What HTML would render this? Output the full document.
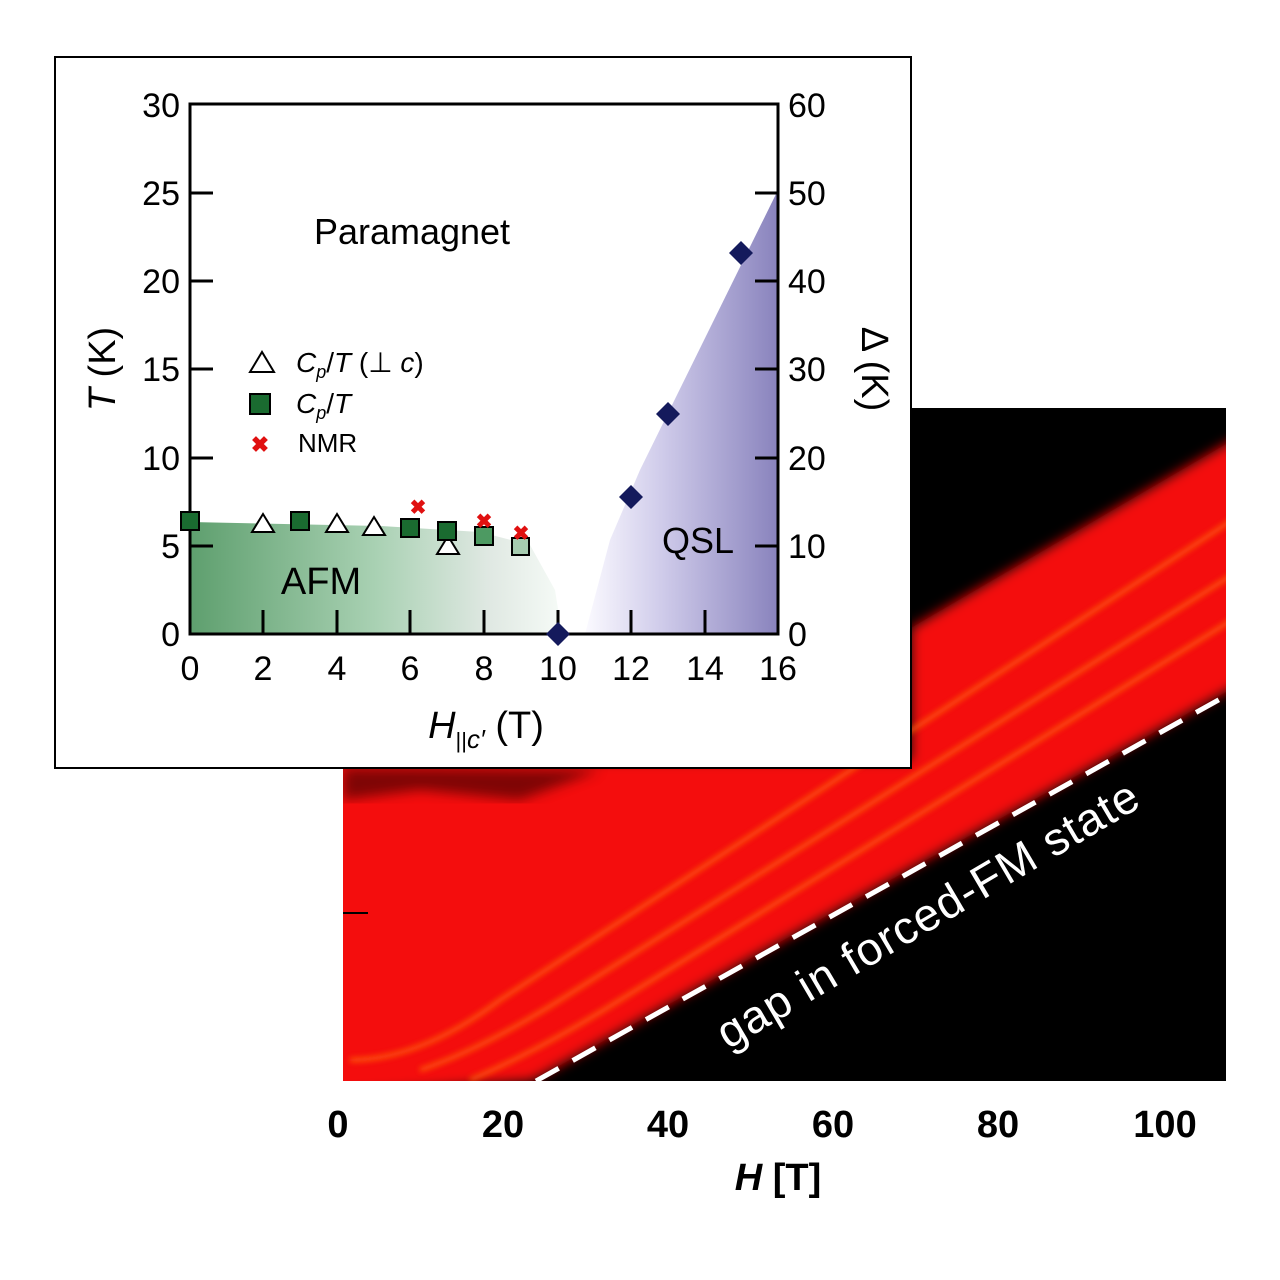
<!DOCTYPE html><html><head><style>body{margin:0;background:#fff}svg{display:block}text{font-family:"Liberation Sans",sans-serif}</style></head><body>
<svg width="1280" height="1280" viewBox="0 0 1280 1280" xmlns="http://www.w3.org/2000/svg">
<defs>
<filter id="b6"><feGaussianBlur stdDeviation="6"/></filter>
<filter id="b3"><feGaussianBlur stdDeviation="3"/></filter>
<clipPath id="hc"><rect x="343" y="408" width="883" height="673"/></clipPath>
<linearGradient id="gg" x1="0" x2="1" y1="0" y2="0"><stop offset="0" stop-color="#5e9f6e"/><stop offset="0.5" stop-color="#a9d1b3"/><stop offset="0.8" stop-color="#dfe8e2"/><stop offset="1" stop-color="#f6fbf7"/></linearGradient>
<linearGradient id="gq" x1="0" x2="1" y1="0" y2="0"><stop offset="0" stop-color="#fbfaff"/><stop offset="0.4" stop-color="#cfcbea"/><stop offset="1" stop-color="#8983bd"/></linearGradient>
</defs>
<!-- heatmap -->
<rect x="343" y="408" width="883" height="673" fill="#000"/>
<g clip-path="url(#hc)">
<g filter="url(#b6)">
<polygon points="330,760 911,760 911,628 1240,436 1240,684 532,1081 330,1095" fill="#f40d0a"/>
</g>
<polygon points="343,800 420,790 520,800 600,770 343,768" fill="#300" opacity="0.6" filter="url(#b6)"/>
<g filter="url(#b3)" stroke="#ff6a10" stroke-width="4" fill="none" opacity="0.85">
<path d="M350,1060 Q420,1060 500,1000 L1240,515"/>
<path d="M420,1070 Q480,1050 560,1000 L1240,570"/>
<path d="M470,1080 Q540,1050 620,1000 L1240,615"/>
</g>
</g>
<line x1="536" y1="1081" x2="1222" y2="698" stroke="#fff" stroke-width="5" stroke-dasharray="26,16"/>
<text transform="translate(728,1050) rotate(-30.5)" font-size="46" fill="#fff" letter-spacing="1">gap in forced-FM state</text>
<line x1="343" y1="913" x2="368" y2="913" stroke="#000" stroke-width="2"/>
<g font-size="38" text-anchor="middle" fill="#000" font-weight="bold">
<text x="338" y="1137">0</text><text x="503" y="1137">20</text><text x="668" y="1137">40</text><text x="833" y="1137">60</text><text x="998" y="1137">80</text><text x="1165" y="1137">100</text>
<text x="778" y="1190"><tspan font-style="italic">H</tspan> [T]</text>
</g>
<!-- inset -->
<rect x="55" y="57" width="856" height="711" fill="#fff" stroke="#000" stroke-width="2"/>
<polygon points="190,522 380,526 480,532 530,545 555,590 562,634 190,634" fill="url(#gg)"/>
<polygon points="585,634 610,540 640,470 778,190 778,634" fill="url(#gq)"/>
<g stroke="#000" stroke-width="3" fill="none">
<rect x="190" y="104" width="588" height="530"/>
</g>
<g stroke="#000" stroke-width="3">
<line x1="190" y1="193" x2="213" y2="193"/><line x1="190" y1="281" x2="213" y2="281"/><line x1="190" y1="369" x2="213" y2="369"/><line x1="190" y1="458" x2="213" y2="458"/><line x1="190" y1="546" x2="213" y2="546"/>
<line x1="778" y1="193" x2="755" y2="193"/><line x1="778" y1="281" x2="755" y2="281"/><line x1="778" y1="369" x2="755" y2="369"/><line x1="778" y1="458" x2="755" y2="458"/><line x1="778" y1="546" x2="755" y2="546"/>
<line x1="263" y1="634" x2="263" y2="610"/><line x1="337" y1="634" x2="337" y2="610"/><line x1="410" y1="634" x2="410" y2="610"/><line x1="484" y1="634" x2="484" y2="610"/><line x1="558" y1="634" x2="558" y2="610"/><line x1="631" y1="634" x2="631" y2="610"/><line x1="705" y1="634" x2="705" y2="610"/>
</g>
<g font-size="34" fill="#000">
<g text-anchor="end"><text x="180" y="117">30</text><text x="180" y="205">25</text><text x="180" y="293">20</text><text x="180" y="381">15</text><text x="180" y="470">10</text><text x="180" y="558">5</text><text x="180" y="646">0</text></g>
<g><text x="788" y="117">60</text><text x="788" y="205">50</text><text x="788" y="293">40</text><text x="788" y="381">30</text><text x="788" y="470">20</text><text x="788" y="558">10</text><text x="788" y="646">0</text></g>
<g text-anchor="middle"><text x="190" y="680">0</text><text x="263" y="680">2</text><text x="337" y="680">4</text><text x="410" y="680">6</text><text x="484" y="680">8</text><text x="558" y="680">10</text><text x="631" y="680">12</text><text x="705" y="680">14</text><text x="778" y="680">16</text></g>
<text x="412" y="244" text-anchor="middle" font-size="36">Paramagnet</text>
<text x="321" y="594" text-anchor="middle" font-size="38">AFM</text>
<text x="698" y="553" text-anchor="middle" font-size="36">QSL</text>
<text x="486" y="738" text-anchor="middle" font-size="38"><tspan font-style="italic">H</tspan><tspan font-size="22" dy="10">||</tspan><tspan font-size="26" font-style="italic">c′</tspan><tspan dy="-10"> (T)</tspan></text>
<text transform="translate(115,369) rotate(-90)" text-anchor="middle" font-size="38"><tspan font-style="italic">T</tspan> (K)</text>
<text transform="translate(862,369) rotate(90)" text-anchor="middle" font-size="38">Δ (K)</text>
</g>
<!-- legend -->
<polygon points="250,372 262,352 274,372" fill="#fff" stroke="#000" stroke-width="2"/>
<rect x="250" y="394" width="20" height="20" fill="#1a6b30" stroke="#000" stroke-width="2"/>
<text x="260" y="452" text-anchor="middle" font-size="22" fill="#e01010" font-weight="bold">✖</text>
<g font-size="28" fill="#000"><text x="296" y="372"><tspan font-style="italic">C</tspan><tspan font-style="italic" font-size="18" dy="6">p</tspan><tspan dy="-6">/</tspan><tspan font-style="italic">T</tspan> (⊥ <tspan font-style="italic">c</tspan>)</text>
<text x="296" y="413"><tspan font-style="italic">C</tspan><tspan font-style="italic" font-size="18" dy="6">p</tspan><tspan dy="-6">/</tspan><tspan font-style="italic">T</tspan></text>
<text x="298" y="452" font-size="26">NMR</text></g>
<!-- data -->
<g fill="#fff" stroke="#000" stroke-width="2">
<polygon points="252,532 263,514 274,532"/><polygon points="326,532 337,514 348,532"/><polygon points="363,535 374,517 385,535"/><polygon points="437,554 448,536 459,554"/>
</g>
<g stroke="#000" stroke-width="2">
<rect x="181" y="512" width="18" height="18" fill="#1a6b30"/><rect x="291" y="512" width="18" height="18" fill="#1a6b30"/><rect x="401" y="519" width="18" height="18" fill="#1a6b30"/><rect x="438" y="522" width="18" height="18" fill="#1a6b30"/><rect x="475" y="527" width="18" height="18" fill="#4d9a62"/><rect x="512" y="538" width="17" height="17" fill="#a6ccb0"/>
</g>
<g fill="#e01010" font-size="20" font-weight="bold" text-anchor="middle"><text x="418" y="514">✖</text><text x="484" y="528">✖</text><text x="521" y="540">✖</text></g>
<g fill="#141a5c"><polygon points="558,622 570,634 558,646 546,634"/><polygon points="631,485 643,497 631,509 619,497"/><polygon points="668,402 680,414 668,426 656,414"/><polygon points="741,241 753,253 741,265 729,253"/></g>
</svg>
</body></html>
